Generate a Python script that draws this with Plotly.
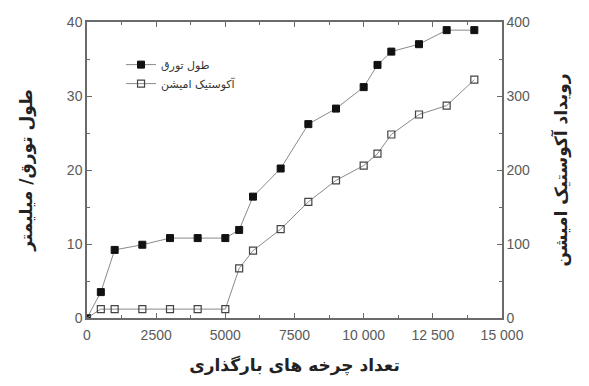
import plotly.graph_objects as go

cycles_len = [0, 500, 1000, 2000, 3000, 4000, 5000, 5500, 6000, 7000, 8000, 9000, 10000, 10500, 11000, 12000, 13000, 14000]
length_mm = [0, 3.5, 9.2, 9.9, 10.8, 10.8, 10.8, 11.9, 16.4, 20.2, 26.2, 28.3, 31.2, 34.2, 36.0, 37.0, 38.9, 38.9]

cycles_ae = [0, 500, 1000, 2000, 3000, 4000, 5000, 5500, 6000, 7000, 8000, 9000, 10000, 10500, 11000, 12000, 13000, 14000]
ae_events = [0, 12, 12, 12, 12, 12, 12, 67, 91, 120, 157, 186, 206, 222, 248, 275, 287, 322]

x_tickvals = [0, 2500, 5000, 7500, 10000, 12500, 15000]
x_ticktext = ["0", "2500", "5000", "7500", "10 000", "12 500", "15 000"]

name_len = "طول تورق"
name_ae = "آکوستیک امیشن"
x_title = "تعداد چرخه های بارگذاری"
y_title = "طول تورق/ میلیمتر"
y2_title = "رویداد آکوستیک امیشن"

line_col = "#8a8a8a"
axis_col = "#6a6a6a"
text_col = "#5a5a5a"
ar_font = "DejaVu Sans"

fig = go.Figure()
fig.add_trace(go.Scatter(
    x=cycles_len, y=length_mm, name=name_len, mode="lines+markers",
    line=dict(color=line_col, width=1),
    marker=dict(symbol="square", size=7, color="#111111", line=dict(color="#111111", width=1)),
))
fig.add_trace(go.Scatter(
    x=cycles_ae, y=ae_events, name=name_ae, mode="lines+markers", yaxis="y2",
    line=dict(color=line_col, width=1),
    marker=dict(symbol="square-open", size=7, color="#444444", line=dict(width=1.2)),
))

tickfont = dict(family="Liberation Sans, Arial", size=14, color=text_col)
minor_common = dict(ticks="inside", ticklen=3, tickcolor=axis_col)
title_font = dict(family=ar_font, size=17, color="#222222", weight="bold")

fig.update_layout(
    width=589, height=386,
    margin=dict(l=87, r=87, t=22, b=68, autoexpand=False),
    paper_bgcolor="white", plot_bgcolor="white",
    showlegend=True,
    legend=dict(x=0.082, y=0.905, xanchor="left", yanchor="top",
                bgcolor="rgba(0,0,0,0)",
                font=dict(family=ar_font, size=11, color="#333333"),
                tracegroupgap=0, itemwidth=30),
    xaxis=dict(
        range=[0, 15000], tickvals=x_tickvals, ticktext=x_ticktext,
        showgrid=False, zeroline=False, showline=True, linecolor=axis_col, linewidth=1.5,
        mirror="ticks", ticks="inside", ticklen=5, tickcolor=axis_col,
        tickfont=tickfont, ticklabelstandoff=3,
        minor=dict(dtick=1250, tick0=0, **minor_common),
        title=dict(text=x_title, font=title_font, standoff=18),
    ),
    yaxis=dict(
        range=[0, 40], tickvals=[0, 10, 20, 30, 40],
        showgrid=False, zeroline=False, showline=True, linecolor=axis_col, linewidth=1.5,
        ticks="inside", ticklen=5, tickcolor=axis_col, tickfont=tickfont,
        minor=dict(dtick=5, tick0=0, **minor_common),
        title=dict(text=y_title, font=title_font, standoff=30),
    ),
    yaxis2=dict(
        range=[0, 400], tickvals=[0, 100, 200, 300, 400], overlaying="y", side="right",
        showgrid=False, zeroline=False, showline=True, linecolor=axis_col, linewidth=1.5,
        ticks="inside", ticklen=5, tickcolor=axis_col, tickfont=tickfont,
        minor=dict(dtick=50, tick0=0, **minor_common),
        title=dict(text=y2_title, font=title_font, standoff=26),
    ),
)

fig.write_html("out.html", config={"displayModeBar": False},
               post_script="document.body.style.margin='0';")
